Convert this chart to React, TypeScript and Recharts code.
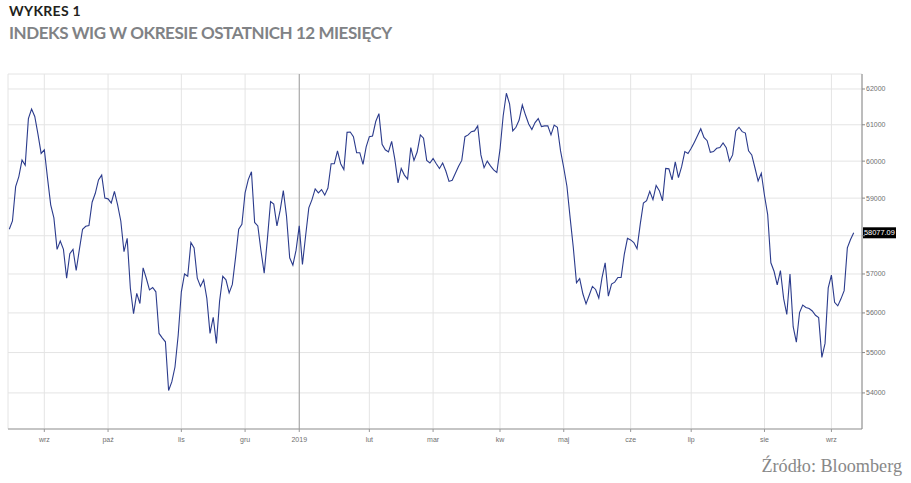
import { CartesianGrid, Line, LineChart, ReferenceLine, XAxis, YAxis } from 'recharts'

// WIG close, trading days from mid-Aug 2018 to mid-Sep 2019
const wigAugOct2018 = [
  58170, 58390, 59310, 59580, 60030, 59890, 61170, 61440, 61230, 60740,
  60210, 60310, 59540, 58820, 58470, 57640, 57860, 57640, 56890, 57530,
  57640, 57090, 57640, 58170, 58250, 58270, 58890, 59130, 59490, 59620,
  59000, 58980, 58870, 59180, 58820, 58390, 57580, 57930, 56630, 55980,
  56500, 56240, 57160, 56890, 56590, 56650, 56540, 55480, 55370, 55270,
  54060, 54270, 54640, 55430,
]
const wigNovDec2018 = [
  56540, 57000, 56940, 57820, 57680, 56890, 56680, 56850, 56370, 55480,
  55890, 55230, 56300, 56940, 56850, 56510, 56730, 57420, 58170, 58300,
  59140, 59500, 59710, 58350, 58260, 57600, 57020, 57910, 58910, 58840,
  58260, 58670, 59200, 58520, 57420, 57230, 57620,
]
const wigJanMar2019 = [
  58260, 57250, 58000, 58740, 58960, 59250, 59140, 59230, 59080, 59270,
  59930, 59930, 60280, 59930, 59770, 60790, 60800, 60670, 60230, 60230,
  59910, 60390, 60670, 60690, 61090, 61310, 60460, 60310, 60250, 60540,
  60050, 59410, 59800, 59620, 59510, 60370, 60020, 60250, 60720, 60630,
  60020, 59950, 60070, 59930, 59800, 59950, 59730, 59450, 59480, 59670,
  59860, 60020, 60670, 60720, 60810, 60830, 60970, 60170, 59820, 60000,
  59870, 59760, 59690,
]
const wigAprJun2019 = [
  60320, 61250, 61880, 61580, 60830, 60930, 61130, 61550, 61270, 61020,
  60870, 61060, 61170, 60950, 60970, 60970, 60720, 60990, 60930, 60280,
  59820, 59320, 58480, 57690, 56770, 56880, 56490, 56230, 56450, 56680,
  56600, 56380, 56900, 57290, 56430, 56740, 56790, 56910, 56910, 57510,
  57930, 57890, 57820, 57660, 58300, 58870, 58930, 59180, 58960, 59340,
  59200, 58930, 59800, 59790, 59490, 59980, 59550, 59850, 60260, 60210,
]
const wigJulSep2019 = [
  60350, 60520, 60700, 60890, 60650, 60560, 60240, 60260, 60350, 60370,
  60500, 60370, 60000, 60170, 60830, 60930, 60810, 60770, 60280, 60170,
  59820, 59460, 59670, 59070, 58560, 57290, 57070, 56720, 57090, 56370,
  55960, 57000, 55650, 55260, 56010, 56200, 56140, 56110, 56050, 55940,
  55880, 54880, 55230, 56640, 56970, 56270, 56180, 56360, 56570, 57680,
  57900, 58077.09,
]

const monthTickIdx = [11, 31, 54, 74, 91, 113, 133, 154, 174, 195, 214, 237, 258]
const monthLabels = ['wrz', 'paź', 'lis', 'gru', '2019', 'lut', 'mar', 'kw', 'maj', 'cze', 'lip', 'sie', 'wrz']
const yearStartIdx = 91
const yTicks = [54000, 55000, 56000, 57000, 58000, 59000, 60000, 61000, 62000]
// tick label hidden behind the last-value tag
const coveredTick = 58000

const wig = [...wigAugOct2018, ...wigNovDec2018, ...wigJanMar2019, ...wigAprJun2019, ...wigJulSep2019]
const data = wig.map((v, i) => ({ i, wig: v }))
const lastValue = wig[wig.length - 1]

const axisFont = { fontSize: 7, fill: '#707070', fontFamily: 'Liberation Sans, Arial, sans-serif' }

function LastValueTag(props: any) {
  const { viewBox } = props
  const x = viewBox.x + viewBox.width
  const y = viewBox.y
  return (
    <g>
      <rect x={x + 1} y={y - 5.5} width={33} height={11} fill='#000' />
      <text x={x + 2} y={y + 2.6} fill='#fff' fontSize={7.4} fontFamily='Liberation Sans, Arial, sans-serif'>
        {lastValue.toFixed(2)}
      </text>
    </g>
  )
}

export default function App() {
  return (
    <div style={{ position: 'absolute', left: 0, top: 0, width: 911, height: 483, background: '#fff' }}>
      <div
        style={{
          position: 'absolute', left: 9, top: 4, fontFamily: 'Lato, sans-serif', fontWeight: 700,
          fontSize: 14, lineHeight: 1, color: '#231f20', letterSpacing: 0.3,
        }}
      >
        WYKRES 1
      </div>
      <div
        style={{
          position: 'absolute', left: 9, top: 24, fontFamily: 'Lato, sans-serif', fontWeight: 700,
          fontSize: 17, lineHeight: 1, color: '#808285', letterSpacing: -0.45,
        }}
      >
        INDEKS WIG W OKRESIE OSTATNICH 12 MIESIĘCY
      </div>

      <LineChart width={911} height={483} data={data} margin={{ top: 74, right: 0, bottom: 0, left: 8 }}>
        <CartesianGrid stroke='#e4e4e4' />
        <XAxis
          dataKey='i'
          type='number'
          domain={[-0.4, 267.6]}
          ticks={monthTickIdx}
          interval={0}
          tickFormatter={(v) => monthLabels[monthTickIdx.indexOf(v)]}
          height={54}
          stroke='#999'
          tickSize={3}
          tickMargin={5}
          tick={axisFont}
        />
        <YAxis
          orientation='right'
          type='number'
          scale='log'
          domain={[53122, 62424]}
          allowDataOverflow
          ticks={yTicks}
          interval={0}
          width={49}
          stroke='#888'
          tickSize={3}
          tickMargin={1}
          tick={axisFont}
          tickFormatter={(v) => (v === coveredTick ? '' : String(v))}
        />
        <ReferenceLine x={yearStartIdx} stroke='#a0a0a0' />
        <Line
          type='linear'
          dataKey='wig'
          stroke='#2b3b8c'
          strokeWidth={1.1}
          dot={false}
          isAnimationActive={false}
        />
        <ReferenceLine y={lastValue} stroke='none' label={{ content: (p: any) => <LastValueTag {...p} /> }} />
      </LineChart>

      <div
        style={{
          position: 'absolute', right: 9, top: 457, fontFamily: 'Liberation Serif, serif',
          fontSize: 18.2, lineHeight: 1, color: '#888',
        }}
      >
        Źródło: Bloomberg
      </div>
    </div>
  )
}
